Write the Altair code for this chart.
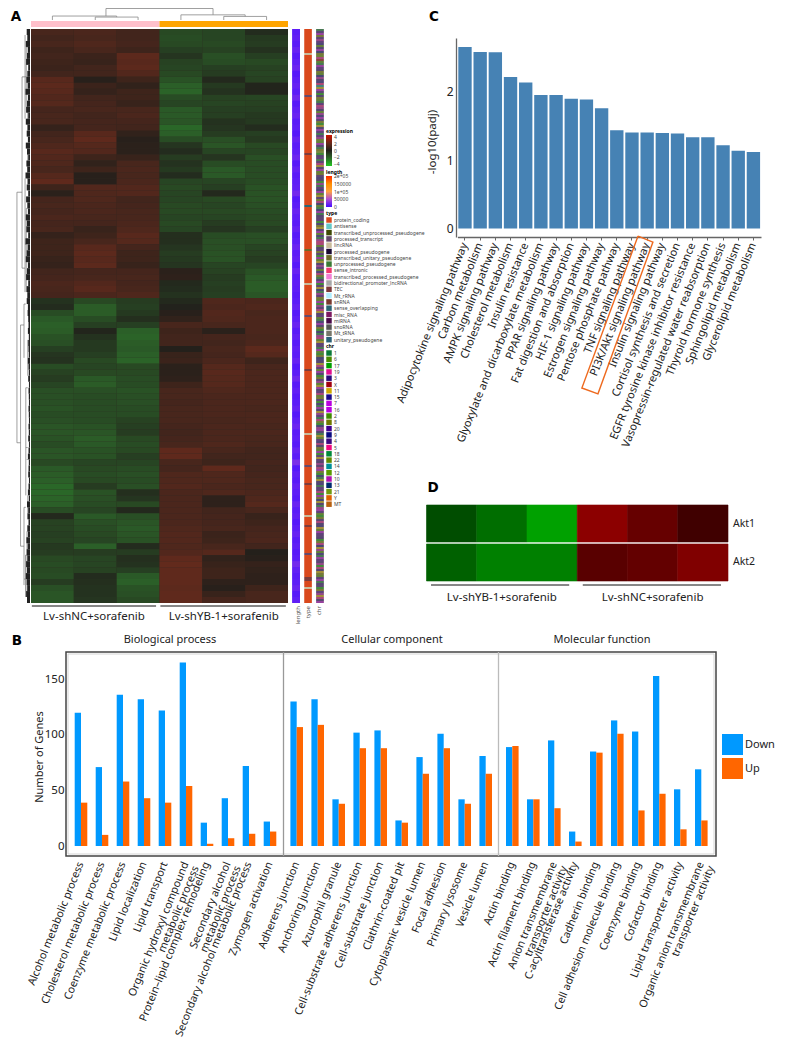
import altair as alt
import pandas as pd

FONT = "Noto Sans"
W, H = 777, 1030

# ---------- Panel A data ----------
heat_cols = ["NC1", "NC2", "NC3", "YB1", "YB2", "YB3"]
heat_rows = [
 [1.2,1.3,1.0,-1.3,-1.2,-0.4],[1.0,1.2,1.0,-1.4,-1.2,-0.8],[1.2,1.4,1.1,-1.3,-1.3,-0.9],[0.9,1.2,0.9,-1.0,-1.1,-0.6],
 [1.0,0.8,1.8,-0.7,-1.5,-1.0],[0.9,0.7,1.7,-1.1,-1.4,-1.3],[0.8,1.0,1.8,-1.2,-1.0,-1.1],[1.0,1.0,1.5,-1.3,-0.9,-1.2],
 [1.7,0.2,0.9,-1.6,-0.3,-1.1],[1.8,0.8,0.5,-2.0,-0.8,-0.2],[1.7,0.6,0.9,-2.1,-0.6,-0.2],[1.5,1.0,0.9,-1.4,-1.1,-1.2],
 [1.6,1.1,0.7,-1.2,-1.2,-1.1],[1.1,1.2,1.2,-1.8,-1.0,-1.0],[1.2,1.0,1.3,-1.8,-1.0,-0.8],[1.2,1.1,1.1,-1.7,-0.6,-0.8],
 [0.6,1.1,1.0,-2.2,-0.7,-0.4],[1.0,1.7,0.5,-2.0,-0.9,-1.0],[1.2,1.9,0.2,-1.4,-1.5,-0.8],[1.4,1.6,0.3,-0.7,-1.7,-1.3],
 [1.7,1.5,0.3,-0.4,-1.2,-1.2],[1.5,0.9,0.7,-0.9,-0.7,-1.5],[1.4,0.5,1.2,-0.6,-1.4,-1.4],[1.2,0.9,1.3,-0.8,-1.8,-1.4],
 [1.6,0.2,1.2,-0.4,-1.8,-1.4],[1.9,0.2,1.3,-1.2,-1.2,-1.4],[0.9,1.5,1.5,-1.3,-1.0,-1.6],[0.3,1.4,1.5,-1.2,-0.3,-1.6],
 [1.1,1.4,1.0,-1.2,-1.3,-1.6],[1.2,1.3,1.1,-1.3,-1.2,-1.5],[1.1,1.3,1.2,-1.3,-1.3,-1.4],[1.3,1.2,1.2,-1.2,-1.2,-1.3],
 [1.1,1.1,1.3,-1.3,-0.9,-1.3],[1.2,0.7,1.4,-1.2,-0.7,-1.0],[0.6,0.9,1.7,-0.5,-1.4,-1.5],[0.9,1.2,1.6,-0.5,-1.5,-1.5],
 [0.9,1.7,1.1,-0.7,-1.5,-1.2],[0.9,1.8,0.9,-0.9,-1.6,-1.1],[0.7,1.7,0.9,-0.8,-1.6,-0.9],[0.6,1.8,0.7,-0.7,-1.2,-1.2],
 [1.0,1.1,1.1,0.3,-1.1,-1.6],[1.1,1.2,1.2,0.4,-0.9,-1.8],[1.3,1.5,1.1,-0.3,-1.0,-1.9],[1.2,1.7,1.2,-0.4,-0.9,-1.9],
 [1.1,1.3,1.4,-0.6,-1.0,-1.7],
 [-0.6,-1.3,-0.9,-0.3,1.4,1.3],[-0.4,-1.9,-1.0,-0.1,1.3,1.4],[-1.4,-1.9,-0.8,0.2,1.5,1.2],[-1.8,-1.4,-0.5,0.5,1.4,1.3],
 [-2.0,-1.0,-1.0,1.2,1.2,1.3],[-1.9,-0.2,-2.0,0.9,0.3,1.3],[-1.6,-0.6,-2.1,1.0,1.1,1.2],[-1.5,-0.8,-1.9,1.0,1.0,1.3],
 [-1.0,-0.8,-1.8,0.1,1.2,1.8],[-0.7,-1.0,-2.0,0.7,1.1,1.6],[-0.6,-1.3,-2.1,0.8,1.3,0.9],[-1.4,-1.2,-1.3,0.3,1.6,1.2],
 [-1.1,-1.3,-1.3,0.3,1.7,1.3],[-0.9,-1.8,-1.4,0.4,1.6,1.3],[-1.2,-1.9,-1.4,0.9,1.6,1.3],[-1.5,-1.5,-1.6,1.2,1.4,1.3],
 [-1.5,-1.4,-1.5,1.2,1.3,1.3],[-1.5,-1.4,-1.5,1.1,1.3,1.3],[-1.6,-1.4,-1.4,1.2,1.3,1.2],[-1.4,-1.4,-1.4,1.2,1.3,1.3],
 [-1.5,-1.4,-1.1,1.2,1.2,1.3],[-1.7,-1.6,-1.0,1.1,1.3,1.2],[-1.7,-1.7,-0.9,1.0,1.3,1.3],[-1.6,-1.9,-1.3,1.1,1.3,1.2],
 [-1.4,-1.8,-1.4,1.2,1.4,1.2],[-1.7,-1.6,-1.3,1.9,1.2,1.0],[-1.7,-1.6,-1.0,1.9,1.0,1.0],[-1.3,-1.2,-1.2,1.2,0.9,1.1],
 [-1.8,-1.3,-1.4,1.1,1.9,1.0],[-1.9,-1.4,-1.5,1.4,1.4,1.1],[-2.0,-1.3,-1.4,1.4,1.4,1.2],[-2.2,-0.9,-1.5,1.5,1.3,1.2],
 [-2.2,-1.6,-0.5,1.3,1.4,1.3],[-2.1,-1.5,-0.7,1.3,0.4,1.4],[-2.0,-1.4,-1.3,1.3,0.4,1.6],[-1.4,-1.2,-0.3,1.3,1.0,1.2],
 [-0.3,-1.8,-1.5,1.3,1.1,0.7],[-1.1,-1.5,-1.7,1.3,1.1,0.9],[-1.1,-1.4,-1.8,1.4,1.2,1.1],[-1.0,-1.3,-1.7,1.5,0.8,1.2],
 [-1.1,-1.2,-1.6,1.5,0.9,1.3],[-0.8,-2.0,-0.4,1.4,1.2,1.0],[-0.9,-0.9,-0.9,1.5,1.6,0.1],[-1.3,-1.2,-0.5,1.9,0.5,0.2],
 [-1.4,-1.2,-0.6,2.0,0.7,0.6],[-1.3,-1.1,-1.0,1.9,0.9,0.5],[-1.4,-0.4,-1.8,1.9,0.9,0.4],[-0.9,-0.5,-2.0,1.9,0.4,0.4],
 [-1.5,-0.6,-1.6,1.8,0.2,0.9],[-1.7,-0.6,-1.5,1.9,0.7,1.2],[-1.7,-0.7,-1.3,1.9,1.1,1.2],
]
length_values = [
 9000,12000,8000,14000,7000,11000,16000,6000,10000,13000,9000,18000,7000,12000,15000,8000,
 10000,6000,14000,9000,11000,17000,7000,13000,8000,10000,12000,20000,6000,9000,15000,11000,
 8000,13000,7000,10000,16000,9000,12000,6000,14000,8000,11000,10000,7000,
 9000,13000,6000,10000,15000,8000,12000,7000,11000,9000,14000,6000,10000,18000,8000,
 12000,7000,9000,13000,6000,11000,16000,8000,10000,7000,14000,9000,24000,6000,11000,8000,
 13000,10000,7000,15000,9000,12000,6000,10000,14000,8000,11000,7000,9000,20000,12000,8000,
 10000,15000,7000,11000,
]
type_names = ["protein_coding","antisense","transcribed_unprocessed_pseudogene","processed_transcript",
 "lincRNA","processed_pseudogene","transcribed_unitary_pseudogene","unprocessed_pseudogene","sense_intronic",
 "transcribed_processed_pseudogene","bidirectional_promoter_lncRNA","TEC","Mt_rRNA","snRNA","sense_overlapping",
 "misc_RNA","miRNA","snoRNA","Mt_tRNA","unitary_pseudogene"]
type_colors = ["#d9481c","#63c8c8","#3f4a06","#64486b","#c9bb9b","#1a0a33","#6e6a2a","#3a7a34","#f0386e","#f27fd6",
 "#a8a8a8","#7d3b3b","#b0eeff","#7a3a2e","#2a6473","#7d1a62","#4a0a4a","#555555","#77776a","#2a6078"]
type_exceptions = {12:"lincRNA",33:"processed_transcript",62:"TEC",88:"sense_overlapping",110:"transcribed_unitary_pseudogene",
 127:"lincRNA",143:"processed_transcript",170:"TEC",202:"lincRNA",218:"processed_transcript",227:"TEC",
 243:"lincRNA",248:"TEC",262:"processed_transcript",274:"TEC",275:"TEC",279:"lincRNA"}
chr_names = ["1","6","17","19","3","X","11","15","7","16","2","8","20","9","4","5","18","22","14","12","10","13","21","Y","MT"]
chr_colors = ["#0a7a3a","#4a8a00","#00a000","#e01090","#2a0a7a","#a00010","#d0a800","#1a0a8a","#b800e0","#b800e0",
 "#3f8a00","#707a00","#400090","#0a0a80","#3a0a80","#f00a80","#008a3a","#608a00","#00909a","#5a9a00",
 "#b010b0","#002a70","#709a10","#e06000","#b86010"]
chr_codes = ("aeiloumhbeinlrdfkaimelbnuehpsgiocelbamduebuhiolcgeimamurbiealwcemaodgeiblohecuamnibgoldnbqnia"
 "eomchlgeibhaupdbemlocibgeumbhdlaeicognaumlbicuodgemkahielcnaudbgmoaibclnhegdmbiecloukgiemdbl"
 "ochaiegumadlcnuieagbmhdelkicogmeuodilcnagehamodcilngeauimbclodehgbimoecldngukhaimoucdeglbmiaeoclmugdeihbalomnucigedh")
group_names = ["Lv-shNC+sorafenib", "Lv-shYB-1+sorafenib"]
group_colors = ["#ffc0cb", "#ffa500"]
group_start = [0.02, 3.02]
group_end = [2.92, 5.95]
group_mid = [1.47, 4.5]
strip_names = ["length", "type", "chr"]

# column dendrogram: column position and merge height
col_tree_x1 = [1.75,4.25,0.5,1.5,1.5,2.5,3.5,3.5,5.0,4.5,4.5,5.5,0.5,2.0]
col_tree_x2 = [4.25,4.25,2.0,2.5,1.5,2.5,5.0,3.5,5.0,5.5,4.5,5.5,0.5,2.0]
col_tree_y1 = [1.0,1.0,0.345,0.255,0.255,0.255,0.448,0.448,0.448,0.31,0.31,0.31,0.345,0.345]
col_tree_y2 = [1.0,0.448,0.345,0.255,0.0,0.0,0.448,0.0,0.31,0.31,0.0,0.0,0.0,0.255]
stem_x = [1.75]
stem_top = [1.0]
stem_bot = [0.345]

# row dendrogram: depth (0 = root side, 1 = leaves) and row position
tree_depth1 = [.13,.13,.13,.47,.47,.47,.67,.67,.67,.67,.75,.75,.75,.75,.37,.37,.37,.60,.60,.60,.60,.72,.72,.72,.80,.80,.60,.70,.70,.78,.85,.85,.85,.85,.85]
tree_depth2 = [.13,.47,.37,.47,.67,.67,.67,.75,.67,.75,.75,.85,.75,.85,.37,.60,.60,.60,.72,.60,.72,.72,.85,.85,.80,.92,.70,.70,.85,.85,.85,.85,.85,.85,.85]
tree_row1 =   [27.3,27.3,69.2,8,8,40,1,8,25,36,3,3,30,30,49.5,49.5,86.5,46,46,80,80,60,60,70,84,84,92,88,88,72,12,20,52,78,90]
tree_row2 =   [69.2,27.3,69.2,40,8,40,15,8,44,36,13,3,43,30,86.5,49.5,86.5,55,46,93,80,78,60,70,94,84,92,95,88,72,17,26,58,82,94]
leaf_reach = [.78,.82,.72,.85,.80,.74,.88,.82,.76,.84,.70,.86,.80,.74,.88,.72,.84,.78,.86,.72,.80,.88,.76,.82,.70,.85,
 .78,.88,.74,.82,.86,.72,.80,.76,.88,.70,.84,.78,.72,.86,.80,.74,.88,.76,.82,
 .78,.86,.84,.88,.90,.86,.92,.88,.90,.92,.86,.90,.92,.88,.93,.90,.92,.93,.90,.92,.93,.90,.92,.88,.93,.90,.86,.92,.90,.88,.93,
 .90,.86,.92,.80,.88,.84,.90,.82,.86,.76,.84,.78,.82,.74,.80,.72,.78,.82,.74,.80]

# ---------- Panel B data ----------
bp_terms = ["Alcohol metabolic process","Cholesterol metabolic process","Coenzyme metabolic process","Lipid localization",
 "Lipid transport","Organic hydroxyl compound|metabolic process","Protein\u2013lipid complex remodeling",
 "Secondary alcohol|metabolic process","Secondary alcohol metabolic process","Zymogen activation"]
bp_down = [120,71,136,132,122,165,21,43,72,22]
bp_up = [39,10,58,43,39,54,2,7,11,13]
cc_terms = ["Adherens junction","Anchoring junction","Azurophil granule","Cell-substrate adherens junction",
 "Cell-substrate junction","Clathrin-coated pit","Cytoplasmic vesicle lumen","Focal adhesion","Primary lysosome","Vesicle lumen"]
cc_down = [130,132,42,102,104,23,80,101,42,81]
cc_up = [107,109,38,88,88,21,65,88,38,65]
mf_terms = ["Actin binding","Actin filament binding","Anion transmembrane|transporter activity","C-acyltransferase activity",
 "Cadherin binding","Cell adhesion molecule binding","Coenzyme binding","Cofactor binding","Lipid transporter activity",
 "Organic anion transmembrane|transporter activity"]
mf_down = [89,42,95,13,85,113,103,153,51,69]
mf_up = [90,42,34,4,84,101,32,47,15,23]
dir_names = ["Down", "Up"]
dir_colors = ["#0099ff", "#ff6600"]

# ---------- Panel C data ----------
path_names = ["Adipocytokine signaling pathway","Carbon metabolism","AMPK signaling pathway","Cholesterol metabolism",
 "Insulin resistance","Glyoxylate and dicarboxylate metabolism","PPAR signaling pathway","Fat digestion and absorption",
 "HIF-1 signaling pathway","Estrogen signaling pathway","Pentose phosphate pathway","TNF signaling pathway",
 "PI3K/Akt signaling pathway","Insulin signaling pathway","Cortisol synthesis and secretion",
 "EGFR tyrosine kinase inhibitor resistance","Vasopressin-regulated water reabsorption","Thyroid hormone synthesis",
 "Sphingolipid metabolism","Glycerolipid metabolism"]
path_values = [2.66,2.585,2.58,2.22,2.14,1.955,1.955,1.90,1.89,1.76,1.44,1.405,1.405,1.40,1.39,1.335,1.335,1.22,1.14,1.12]
# highlight box corners, in bar-position and -log10 units
box_pos = [11.9,12.88,9.26,8.2,11.9]
box_val = [-0.11,-0.198,-2.42,-2.335,-0.11]

# ---------- Panel D data ----------
d_samples = ["YB1","YB2","YB3","NC1","NC2","NC3"]
d_genes = ["Akt1","Akt2"]
akt1 = [-0.30,-0.43,-0.63,0.55,0.40,0.25]
akt2 = [-0.38,-0.50,-0.50,0.35,0.39,0.50]
d_group_names = ["Lv-shYB-1+sorafenib","Lv-shNC+sorafenib"]
d_group_start = [0.09,3.11]
d_group_end = [2.84,5.86]
d_group_mid = [1.5,4.5]


def px(v):
    return v - 8


def label(t, x, y, size=11, align="center", angle=0, weight="normal", color="#222", font=FONT, baseline="middle"):
    return alt.Chart(pd.DataFrame({"t": [t]})).mark_text(
        align=align, baseline=baseline, angle=angle, fontSize=size, fontWeight=weight, color=color, font=font
    ).encode(x=alt.value(px(x)), y=alt.value(px(y)), text="t:N")


layers = []
# scales of panel A
heat_x_band = alt.Scale(domain=heat_cols, range=[px(31), px(288)])
heat_x_lin = alt.Scale(domain=[0, 6], range=[px(31), px(288)])
n_rows = len(heat_rows)
heat_y_band = alt.Scale(domain=list(range(n_rows)), range=[px(29), px(603)])
heat_y_lin = alt.Scale(domain=[0, n_rows], range=[px(29), px(603)])
strip_x = alt.Scale(domain=strip_names, range=[px(292.3), px(323.8)], paddingInner=0.36, paddingOuter=0)

# dark backing so that the seams between heat rows read as thin dark stripes
layers.append(alt.Chart(pd.DataFrame({"a": [0], "b": [6]})).mark_rect(color="#2e2822").encode(
    x=alt.X("a:Q", scale=heat_x_lin, axis=None), x2="b:Q", y=alt.value(px(29)), y2=alt.value(px(603))))
heat_df = pd.DataFrame([{"row": i, "col": c, "v": v} for i, r in enumerate(heat_rows) for c, v in zip(heat_cols, r)])
layers.append(alt.Chart(heat_df).mark_rect().encode(
    x=alt.X("col:N", scale=heat_x_band, axis=None),
    y=alt.Y("row:O", scale=heat_y_band, axis=None),
    color=alt.Color("v:Q", scale=alt.Scale(domain=[-4.6,-2,0,2,4.6], range=["#22c722","#2b5f28","#211f1b","#622a1c","#cc1100"], interpolate="rgb"),
        legend=alt.Legend(orient="none", legendX=px(326), legendY=px(129), title="expression", titleFontSize=5, titleFont=FONT,
            titlePadding=1, labelFontSize=5, labelFont=FONT, labelColor="#444", gradientLength=31, gradientThickness=6, values=[4,2,0,-2,-4],
            labelOverlap=False, labelOffset=2, tickCount=5, gradientStrokeWidth=0)),
))

# group colour bar and column dendrogram
layers.append(alt.Chart(pd.DataFrame({"g": group_names})).mark_rect().encode(
    x=alt.X("g:N", scale=alt.Scale(domain=group_names, range=[px(31), px(288)]), axis=None),
    y=alt.value(px(21)), y2=alt.value(px(27)),
    color=alt.Color("g:N", scale=alt.Scale(domain=group_names, range=group_colors), legend=None)))
tree_y = alt.Scale(domain=[0, 1], range=[px(20), px(8.5)])
layers.append(alt.Chart(pd.DataFrame({"a": col_tree_x1, "b": col_tree_x2, "c": col_tree_y1, "d": col_tree_y2})).mark_rule(color="#888", strokeWidth=0.8).encode(
    x=alt.X("a:Q", scale=heat_x_lin, axis=None), x2="b:Q",
    y=alt.Y("c:Q", scale=tree_y, axis=None), y2="d:Q"))
layers.append(alt.Chart(pd.DataFrame({"a": stem_x, "c": stem_top, "d": stem_bot})).mark_rule(color="#888", strokeWidth=0.8).encode(
    x=alt.X("a:Q", scale=heat_x_lin, axis=None),
    y=alt.Y("c:Q", scale=tree_y, axis=None), y2="d:Q"))

# row dendrogram
depth_x = alt.Scale(domain=[0, 1], range=[px(15), px(30)])
layers.append(alt.Chart(pd.DataFrame({"a": tree_depth1, "b": tree_depth2, "c": tree_row1, "d": tree_row2})).mark_rule(color="#777", strokeWidth=0.7).encode(
    x=alt.X("a:Q", scale=depth_x, axis=None), x2="b:Q",
    y=alt.Y("c:Q", scale=heat_y_lin, axis=None), y2="d:Q"))
layers.append(alt.Chart(pd.DataFrame({"row": list(range(n_rows)), "a": leaf_reach, "b": [1.0] * n_rows})).mark_rect(color="#222").encode(
    x=alt.X("a:Q", scale=depth_x, axis=None), x2="b:Q",
    y=alt.Y("row:O", scale=heat_y_band, axis=None)))

# annotation strips
layers.append(alt.Chart(pd.DataFrame({"s": ["length"]})).mark_rect(color="#5a22ff").encode(
    x=alt.X("s:N", scale=strip_x, axis=None), y=alt.value(px(29)), y2=alt.value(px(603))))
layers.append(alt.Chart(pd.DataFrame({"s": ["length"] * n_rows, "row": list(range(n_rows)), "v": length_values})).mark_rect().encode(
    x=alt.X("s:N", scale=strip_x, axis=None),
    y=alt.Y("row:O", scale=heat_y_band, axis=None),
    color=alt.Color("v:Q", scale=alt.Scale(domain=[-3000,0,50000,100000,150000,200000,203000],
            range=["#4a10ff","#4a10ff","#b050d0","#ffa040","#ff9000","#ff3000","#ff3000"], interpolate="rgb"),
        legend=alt.Legend(orient="none", legendX=px(326), legendY=px(170), title="length", titleFontSize=5, titleFont=FONT,
            titlePadding=1, labelFontSize=5, labelFont=FONT, labelColor="#444", gradientLength=31, gradientThickness=6,
            values=[200000,150000,100000,50000,0], labelOverlap=False, labelOffset=2, gradientStrokeWidth=0,
            labelExpr="datum.value==200000?'2e+05':datum.value==100000?'1e+05':format(datum.value,'d')"))))

n_fine = 287
fine_y = alt.Scale(domain=list(range(n_fine)), range=[px(29), px(603)])
layers.append(alt.Chart(pd.DataFrame({"s": ["type"] * n_fine, "row": list(range(n_fine)),
        "v": [type_exceptions.get(i, "protein_coding") for i in range(n_fine)]})).mark_rect().encode(
    x=alt.X("s:N", scale=strip_x, axis=None),
    y=alt.Y("row:O", scale=fine_y, axis=None),
    color=alt.Color("v:N", scale=alt.Scale(domain=type_names, range=type_colors),
        legend=alt.Legend(orient="none", legendX=px(326), legendY=px(211), title="type", titleFontSize=5, titleFont=FONT,
            titlePadding=1, labelFontSize=5, labelFont=FONT, labelColor="#444", symbolType="square", symbolSize=30, symbolStrokeWidth=0,
            rowPadding=0.3, labelOffset=2, values=type_names, symbolOpacity=1))))

layers.append(alt.Chart(pd.DataFrame({"s": ["chr"]})).mark_rect(color="#7a7868").encode(
    x=alt.X("s:N", scale=strip_x, axis=None), y=alt.value(px(29)), y2=alt.value(px(603))))
codes = chr_codes[:n_fine]
layers.append(alt.Chart(pd.DataFrame({"s": ["chr"] * len(codes), "row": list(range(len(codes))),
        "v": [chr_names[ord(c) - 97] for c in codes]})).mark_rect(opacity=0.45).encode(
    x=alt.X("s:N", scale=strip_x, axis=None),
    y=alt.Y("row:O", scale=fine_y, axis=None),
    color=alt.Color("v:N", scale=alt.Scale(domain=chr_names, range=chr_colors),
        legend=alt.Legend(orient="none", legendX=px(326), legendY=px(344), title="chr", titleFontSize=5, titleFont=FONT,
            titlePadding=1, labelFontSize=5, labelFont=FONT, labelColor="#444", symbolType="square", symbolSize=30, symbolStrokeWidth=0,
            rowPadding=0.3, labelOffset=2, values=chr_names, symbolOpacity=1))))
layers.append(alt.Chart(pd.DataFrame({"s": strip_names})).mark_text(angle=270, align="right", baseline="middle", fontSize=6, color="#555", font=FONT).encode(
    x=alt.X("s:N", scale=strip_x, axis=None), y=alt.value(px(606)), text="s:N"))

# group underlines and labels
layers.append(alt.Chart(pd.DataFrame({"a": group_start, "b": group_end})).mark_rule(color="#111", strokeWidth=1.2).encode(
    x=alt.X("a:Q", scale=heat_x_lin, axis=None), x2="b:Q", y=alt.value(px(606))))
layers.append(alt.Chart(pd.DataFrame({"a": group_mid, "t": group_names})).mark_text(fontSize=11.5, color="#222", font=FONT).encode(
    x=alt.X("a:Q", scale=heat_x_lin, axis=None), y=alt.value(px(617)), text="t:N"))

# ---------- Panel C ----------
c_x = alt.Scale(domain=path_names, range=[px(457.4), px(761)], paddingInner=0.12, paddingOuter=0.06)
c_y = alt.Scale(domain=[-0.124, 2.79], range=[px(237), px(38)], nice=False, zero=False)
c_x_lin = alt.Scale(domain=[0, 20], range=[px(457.4), px(761)])
layers.append(alt.Chart(pd.DataFrame({"p": path_names, "v": path_values, "z": [0.0] * 20})).mark_bar(color="#4682b4").encode(
    x=alt.X("p:N", scale=c_x, sort=None, axis=alt.Axis(title=None, orient="bottom", offset=px(237) - H, labelAngle=292, labelAlign="right",
        labelBaseline="middle", labelFontSize=11.1, labelFont=FONT, labelColor="#222", labelLimit=0, labelOverlap=False, labelPadding=3,
        tickSize=3, tickColor="#666", domainColor="#666", domainWidth=1.3)),
    y=alt.Y("v:Q", scale=c_y, axis=alt.Axis(title=None, orient="left", offset=-px(456), values=[0, 1, 2], format="d", grid=False,
        labelFontSize=12, labelFont=FONT, labelColor="#222", tickSize=0, labelPadding=3, domainColor="#666", domainWidth=1.3)),
    y2="z:Q"))
layers.append(alt.Chart(pd.DataFrame({"a": box_pos, "b": box_val, "o": list(range(5))})).mark_line(color="#ee6a1f", strokeWidth=1.4).encode(
    x=alt.X("a:Q", scale=c_x_lin, axis=None),
    y=alt.Y("b:Q", scale=c_y, axis=None), order="o:Q"))
layers.append(label("-log10(padj)", 433, 142, size=11.5, angle=270))

# ---------- Panel D ----------
d_x = alt.Scale(domain=d_samples, range=[px(426.5), px(728)])
d_x_lin = alt.Scale(domain=[0, 6], range=[px(426.5), px(728)])
d_y = alt.Scale(domain=d_genes, range=[px(505), px(581)], paddingInner=0.05, paddingOuter=0)
d_df = pd.DataFrame([{"g": g, "s": s, "v": v} for g, r in zip(d_genes, [akt1, akt2]) for s, v in zip(d_samples, r)])
d_colors = alt.Scale(domain=[-1, 0, 1], range=["#00ff00", "#000000", "#ff0000"], interpolate="rgb")
layers.append(alt.Chart(d_df).mark_rect(strokeWidth=0.6).encode(
    x=alt.X("s:N", scale=d_x, axis=None),
    y=alt.Y("g:N", scale=d_y, axis=None),
    color=alt.Color("v:Q", scale=d_colors, legend=None),
    stroke=alt.Stroke("v:Q", scale=d_colors, legend=None)))
layers.append(alt.Chart(pd.DataFrame({"g": d_genes})).mark_text(align="left", fontSize=10.5, color="#222", font=FONT).encode(
    x=alt.value(px(733)), y=alt.Y("g:N", scale=d_y, axis=None), text="g:N"))
layers.append(alt.Chart(pd.DataFrame({"a": d_group_start, "b": d_group_end})).mark_rule(color="#111", strokeWidth=1).encode(
    x=alt.X("a:Q", scale=d_x_lin, axis=None), x2="b:Q", y=alt.value(px(585))))
layers.append(alt.Chart(pd.DataFrame({"a": d_group_mid, "t": d_group_names})).mark_text(fontSize=11.5, color="#222", font=FONT).encode(
    x=alt.X("a:Q", scale=d_x_lin, axis=None), y=alt.value(px(598)), text="t:N"))

# ---------- Panel B ----------
b_y = alt.Scale(domain=[0, 175], range=[px(846), px(651.5)], nice=False)
panels = [(bp_terms, bp_down, bp_up, 70.5), (cc_terms, cc_down, cc_up, 286.2), (mf_terms, mf_down, mf_up, 501.8)]
for k, (terms, down, up, left) in enumerate(panels):
    df = pd.DataFrame({"term": terms * 2, "dir": ["Down"] * 10 + ["Up"] * 10, "n": down + up})
    yaxis = None
    if k == 0:
        yaxis = alt.Axis(title=None, orient="left", offset=-px(66), values=[0, 50, 100, 150], grid=False, domain=False, tickSize=0,
                         labelFontSize=11.5, labelFont=FONT, labelColor="#222", labelPadding=2)
    legend = None
    if k == 0:
        legend = alt.Legend(orient="none", legendX=px(722), legendY=px(734), title=None, symbolType="square", symbolSize=441,
                            symbolStrokeWidth=0, labelFontSize=11, labelFont=FONT, labelColor="#222", rowPadding=3, labelOffset=2)
    layers.append(alt.Chart(df).mark_bar().encode(
        x=alt.X("term:N", sort=None, scale=alt.Scale(domain=terms, range=[px(left), px(left + 210)], paddingInner=0.4, paddingOuter=0.2),
            axis=alt.Axis(title=None, orient="bottom", offset=px(856) - H, domain=False, tickSize=0, labelAngle=292, labelAlign="right", labelBaseline="middle",
                labelFontSize=10.8, labelFont=FONT, labelColor="#222", labelLimit=0, labelOverlap=False, labelPadding=6, labelLineHeight=11,
                labelExpr="split(datum.label,'|')")),
        xOffset=alt.XOffset("dir:N", scale=alt.Scale(domain=dir_names)),
        y=alt.Y("n:Q", scale=b_y, axis=yaxis),
        color=alt.Color("dir:N", scale=alt.Scale(domain=dir_names, range=dir_colors), legend=legend)))

frame = pd.DataFrame({"f": [1]})
for x1, x2, col, sw in [(66, 716, "#444", 1.5), (68, 714, "#ccc", 0.8)]:
    layers.append(alt.Chart(frame).mark_rect(filled=False, stroke=col, strokeWidth=sw).encode(
        x=alt.value(px(x1)), x2=alt.value(px(x2)), y=alt.value(px(652 if x1 == 66 else 654)), y2=alt.value(px(856 if x1 == 66 else 854))))
for xp, col in [(283.5, "#999"), (498.5, "#bbb")]:
    layers.append(alt.Chart(frame).mark_rule(color=col, strokeWidth=1.3).encode(
        x=alt.value(px(xp)), y=alt.value(px(652)), y2=alt.value(px(856))))
layers.append(label("Number of Genes", 40, 757, size=11, angle=270))
layers.append(label("Biological process", 170, 640, size=11))
layers.append(label("Cellular component", 392, 640, size=11))
layers.append(label("Molecular function", 602, 640, size=11))

# panel letters
for t, x, y in [("A", 16, 17), ("B", 17, 641), ("C", 434, 17), ("D", 433, 488)]:
    layers.append(label(t, x, y, size=13.5, weight="bold", color="#000", font="DejaVu Sans"))

chart = alt.layer(*layers).properties(
    width=W, height=H, padding=0, autosize=alt.AutoSizeParams(type="none")
).resolve_scale(x="independent", y="independent", color="independent", xOffset="independent", stroke="independent"
).configure_view(stroke=None)

chart.save("out.html", embed_options={"renderer": "svg", "actions": False})
